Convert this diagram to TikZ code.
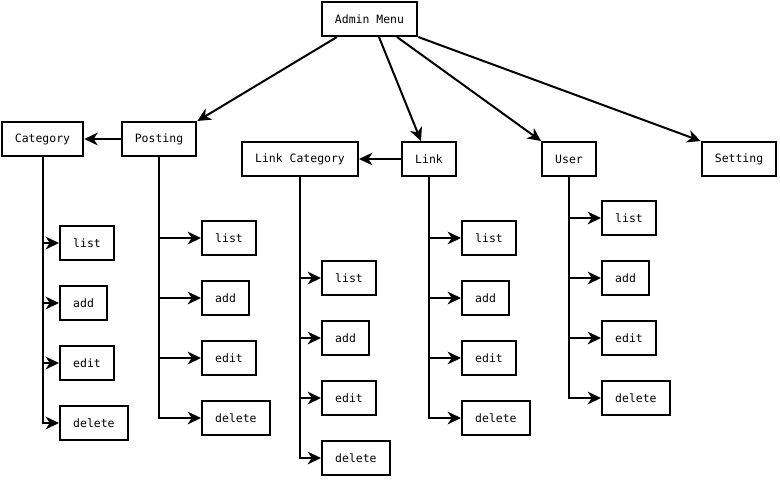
\documentclass[tikz,border=0pt]{standalone}
\usepackage{fontspec}
\setmonofont{DejaVu Sans Mono}
\usetikzlibrary{arrows.meta}
\begin{document}
\begin{tikzpicture}[x=0.75pt,y=-0.75pt,line width=1.5pt,
  >={Stealth[length=10pt,width=9.5pt,inset=3pt]},
  every node/.style={draw,font=\ttfamily\fontsize{8.6}{10}\selectfont,inner xsep=9.9pt,minimum height=25.5pt}]
\useasboundingbox (0,0) rectangle (780,479);
\node (admin) at (369.5,19) {Admin Menu};
\foreach \n/\x/\y/\t in {cat/42.5/139/Category, post/159/139/Posting,
    lcat/300/159/Link Category, link/429/159/Link, user/569/159/User, set/739/159/Setting}
  \node (\n) at (\x,\y) {\t};
\draw[->] ([xshift=-24.4pt]admin.south) -- (post.north east);
\draw[->] ([xshift=7.1pt]admin.south) -- ([xshift=15pt]link.north west);
\draw[->] ([xshift=20.6pt]admin.south) -- (user.north west);
\draw[->] (admin.south east) -- (set.north west);
\draw[->] (post) -- (cat);
\draw[->] (link) -- (lcat);
\foreach \n/\x/\y in {cat/59/243, post/201/238, lcat/321/278, link/461/238, user/601/218}
  \foreach \v [count=\k from 0] in {list,add,edit,delete} {
    \node[anchor=west] (\n\v) at (\x,\y+60*\k) {\v};
    \draw[->] (\n.south) |- (\n\v);
  }
\end{tikzpicture}
\end{document}
